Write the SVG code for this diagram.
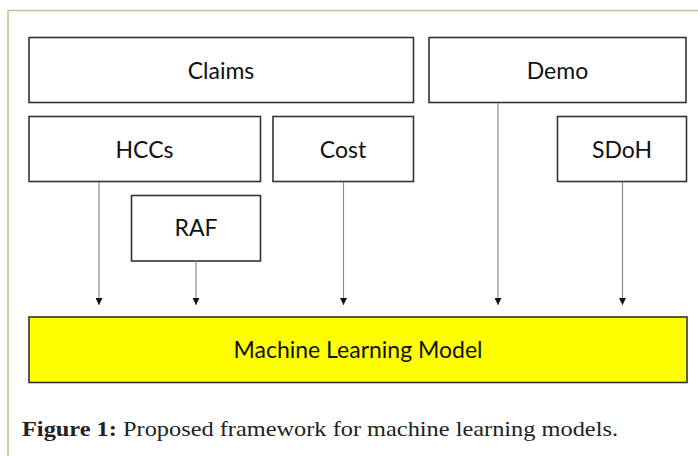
<svg xmlns="http://www.w3.org/2000/svg" width="698" height="456" viewBox="0 0 698 456">
  <style>
    .box { fill: #ffffff; stroke: #333333; stroke-width: 1.6; }
    .model { fill: #ffff00; stroke: #333333; stroke-width: 1.6; }
    .label { font-family: Lato, "Liberation Sans", sans-serif; font-size: 23px; fill: #111111; text-anchor: middle; dominant-baseline: central; }
    .link { stroke: #8a8a8a; stroke-width: 1.2; fill: none; marker-end: url(#tip); }
    .caption { font-family: "Liberation Serif", "Times New Roman", serif; font-size: 22px; fill: #222222; }
  </style>
  <defs>
    <marker id="tip" markerWidth="8" markerHeight="7" refX="7" refY="3.5" orient="auto" markerUnits="userSpaceOnUse">
      <path d="M0,0 L7,3.5 L0,7 Z" fill="#111111"/>
    </marker>
  </defs>

  <rect width="698" height="456" fill="#ffffff"/>
  <!-- figure frame -->
  <path d="M8,470 L8,10.5 L710,10.5" fill="none" stroke="#a9d18e" stroke-width="1.6"/>

  <g id="claims">
    <rect class="box" x="29" y="37.5" width="384.5" height="65"/>
    <text class="label" x="221" y="69.5">Claims</text>
  </g>
  <g id="demo">
    <rect class="box" x="429" y="37.5" width="257" height="65"/>
    <text class="label" x="557.5" y="69.5">Demo</text>
  </g>
  <g id="hccs">
    <rect class="box" x="29" y="116.5" width="231.5" height="65"/>
    <text class="label" x="144.5" y="148.5">HCCs</text>
  </g>
  <g id="cost">
    <rect class="box" x="273" y="116.5" width="140.5" height="65"/>
    <text class="label" x="343" y="148.5">Cost</text>
  </g>
  <g id="sdoh">
    <rect class="box" x="557.5" y="116.5" width="129" height="65"/>
    <text class="label" x="622" y="148.5">SDoH</text>
  </g>
  <g id="raf">
    <rect class="box" x="131.5" y="195.5" width="129" height="65.5"/>
    <text class="label" x="196" y="227">RAF</text>
  </g>
  <g id="ml-model">
    <rect class="model" x="29" y="317" width="658" height="65.5"/>
    <text class="label" x="358" y="349">Machine Learning Model</text>
  </g>

  <g id="connectors">
    <line class="link" x1="99" y1="182" x2="99" y2="305"/>
    <line class="link" x1="196" y1="261" x2="196" y2="305"/>
    <line class="link" x1="343.5" y1="182" x2="343.5" y2="305"/>
    <line class="link" x1="498" y1="103" x2="498" y2="305"/>
    <line class="link" x1="622.5" y1="182" x2="622.5" y2="305"/>
  </g>

  <text class="caption" x="22" y="436" textLength="596" lengthAdjust="spacingAndGlyphs"><tspan font-weight="bold">Figure 1:</tspan> Proposed framework for machine learning models.</text>
</svg>
